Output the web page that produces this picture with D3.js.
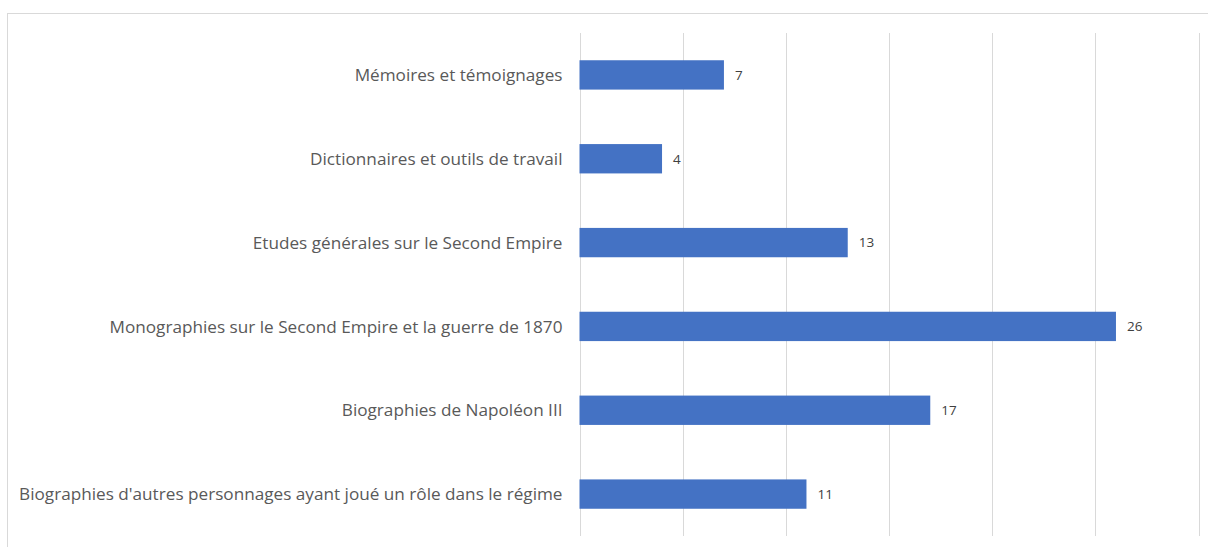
<!DOCTYPE html>
<html>
<head>
<meta charset="utf-8">
<script src="https://cdn.jsdelivr.net/npm/d3@7"></script>
<style>
	body { margin: 0; background: #fff; }
	svg { display: block; }
	.cat-label { font-family: 'Open Sans', sans-serif; fill: #595959; }
	.val-label { font-family: 'Open Sans', sans-serif; fill: #404040; }
</style>
</head>
<body>
<svg id="chart" width="1208" height="547"></svg>
<script>
	// categories from top to bottom, as in the picture
	var categories = [
		'Mémoires et témoignages',
		'Dictionnaires et outils de travail',
		'Etudes générales sur le Second Empire',
		'Monographies sur le Second Empire et la guerre de 1870',
		'Biographies de Napoléon III',
		'Biographies d\'autres personnages ayant joué un rôle dans le régime'
	];
	var counts = [7, 4, 13, 26, 17, 11];
	var gridTicks = [0, 5, 10, 15, 20, 25, 30];

	var svg = d3.select('#chart');
	var plotLeft = 579.5, plotRight = 1198.5, plotTop = 33, plotBottom = 536;

	/** frame */
	svg.append('rect')
		.attr('x', 7.5).attr('y', 13.5)
		.attr('width', 1230).attr('height', 560)
		.attr('fill', 'none').attr('stroke', '#d9d9d9');

	var x = d3.scaleLinear().domain([0, 30]).range([plotLeft, plotRight]);
	var y = d3.scaleBand().domain(categories).range([plotTop, plotBottom]).paddingInner(0.65).paddingOuter(0.325);

	/** grid lines */
	svg.append('g').selectAll('line').data(gridTicks).enter().append('line')
		.attr('x1', function(d) { return Math.round(x(d)) + 0.5; })
		.attr('x2', function(d) { return Math.round(x(d)) + 0.5; })
		.attr('y1', plotTop).attr('y2', plotBottom)
		.attr('stroke', '#d9d9d9').attr('stroke-width', 1);

	/** bars */
	svg.append('g').selectAll('rect').data(counts).enter().append('rect')
		.attr('x', x(0))
		.attr('y', function(d, i) { return y(categories[i]); })
		.attr('width', function(d) { return x(d) - x(0); })
		.attr('height', y.bandwidth())
		.attr('fill', '#4472c4');

	/** value labels */
	svg.append('g').selectAll('text').data(counts).enter().append('text')
		.attr('class', 'val-label')
		.attr('x', function(d) { return x(d) + 11; })
		.attr('y', function(d, i) { return y(categories[i]) + y.bandwidth() / 2; })
		.attr('dy', '0.36em')
		.attr('font-size', 13.5)
		.text(function(d) { return d; });

	/** category labels */
	var yAxis = d3.axisLeft(y).tickSize(0).tickPadding(17);
	var axisG = svg.append('g').attr('transform', 'translate(' + plotLeft + ',0)').call(yAxis);
	axisG.select('.domain').remove();
	var labels = axisG.selectAll('text')
		.attr('class', 'cat-label')
		.attr('font-size', 15)
		.attr('dy', '0.36em');

	// the longest label runs from x=18 in the picture: size the font to match
	var widest = d3.max(labels.nodes(), function(n) { return n.getComputedTextLength(); });
	labels.attr('font-size', 15 * 544 / widest);
</script>
</body>
</html>
